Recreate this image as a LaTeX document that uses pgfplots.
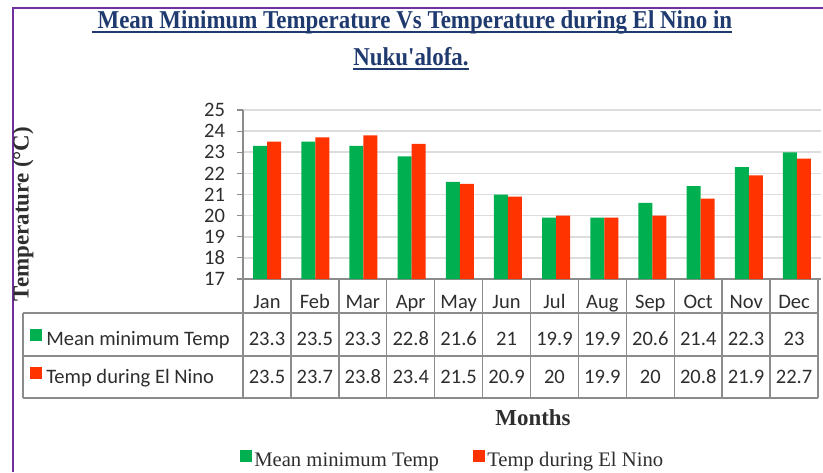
\documentclass[border=0pt]{standalone}
\usepackage{pgfplots}
\pgfplotsset{compat=1.18}
\usepackage{pgfplotstable}
\usepackage{fontspec}
\setmainfont{Liberation Serif}
\newfontfamily\calibri{Carlito}
\definecolor{mgreen}{HTML}{00B050}
\definecolor{mred}{HTML}{FF3300}
\definecolor{navy}{HTML}{1F3A6E}
\definecolor{framec}{HTML}{7030A0}
\definecolor{tline}{HTML}{8C8C8C}
\definecolor{gridc}{HTML}{DDDDDD}
\definecolor{txt}{HTML}{2E2E2E}

\pgfplotstableread{
m mean nino
Jan 23.3 23.5
Feb 23.5 23.7
Mar 23.3 23.8
Apr 22.8 23.4
May 21.6 21.5
Jun 21 20.9
Jul 19.9 20
Aug 19.9 19.9
Sep 20.6 20
Oct 21.4 20.8
Nov 22.3 21.9
Dec 23 22.7
}\data

\newcommand\calsize{\calibri\fontsize{15.4}{18}\selectfont}
\newcommand\titlesize{\bfseries\fontsize{17.2}{20}\selectfont}

\begin{document}
\begin{tikzpicture}[x=0.75pt,y=-0.75pt]
\path[use as bounding box] (0,0) rectangle (823,472);
% frame
\draw[framec, line width=1.5pt] (12.5,472) -- (12.5,7.5) -- (823,7.5);

\begin{axis}[
  at={(182.25pt,-209.25pt)}, anchor=south west,
  scale only axis, width=433.5pt, height=126.75pt,
  xmin=0.5, xmax=12.5, ymin=17, ymax=25,
  ytick={17,...,25}, xtick=\empty,
  axis x line*=bottom, axis y line*=left,
  axis line style={tline, line width=1.1pt},
  ymajorgrids, grid style={gridc, line width=1.2pt},
  tick align=outside, major tick length=4.5pt,
  y tick style={tline, line width=0.9pt},
  yticklabel style={font=\calsize, text=txt, xshift=-5.5pt},
  /pgf/number format/assume math mode=true,
  ybar=0pt, bar width=10.5pt,
  clip=false,
]
\addplot[fill=mgreen, draw=none] table[x expr=\coordindex+1, y=mean]{\data};
\addplot[fill=mred, draw=none] table[x expr=\coordindex+1, y=nino]{\data};
\end{axis}

% data table
\begin{scope}[tline, line width=1.1pt]
\foreach \k in {0,...,12} {
  \pgfmathsetmacro\xx{243+47.9167*\k}
  \draw (\xx,279) -- (\xx,398);
}
\foreach \yy in {313,356,398} { \draw (23,\yy) -- (818,\yy); }
\draw (23,313) -- (23,398);
\end{scope}

\foreach \k in {0,...,11} {
  \pgfmathsetmacro\xc{243+47.9167*(\k+0.5)}
  \pgfplotstablegetelem{\k}{m}\of\data
  \node[anchor=base, inner sep=0, text=txt] at (\xc,308) {\calsize\pgfplotsretval};
  \pgfplotstablegetelem{\k}{mean}\of\data
  \node[anchor=base, inner sep=0, text=txt] at (\xc,345) {\calsize\pgfplotsretval};
  \pgfplotstablegetelem{\k}{nino}\of\data
  \node[anchor=base, inner sep=0, text=txt] at (\xc,383) {\calsize\pgfplotsretval};
}
\fill[mgreen] (30,329) rectangle (42,341);
\node[anchor=base west, inner sep=0, text=txt] at (46,345) {\calsize Mean minimum Temp};
\fill[mred] (30,367) rectangle (42,379);
\node[anchor=base west, inner sep=0, text=txt] at (46,383) {\calsize Temp during El Nino};

% title
\node[anchor=base, inner sep=0, text=navy] (t1) at (412,28) {\scalebox{1}[1.12]{\titlesize\ Mean Minimum Temperature Vs Temperature during El Nino in}};
\draw[navy, line width=1.5pt] ([yshift=-3.2pt]t1.base west) -- ([yshift=-3.2pt]t1.base east);
\node[anchor=base, inner sep=0, text=navy] (t2) at (411,65) {\scalebox{1}[1.12]{\titlesize Nuku\textquotesingle alofa.}};
\draw[navy, line width=1.5pt] ([yshift=-3.2pt]t2.base west) -- ([yshift=-3.2pt]t2.base east);

% y label
\node[rotate=90, inner sep=0, text=txt] at (23,214) {\titlesize Temperature (°C)};
% x label
\node[anchor=base, inner sep=0, text=txt] at (533,425) {\titlesize Months};

% legend
\fill[mgreen] (240,450) rectangle (252,462);
\node[anchor=base west, inner sep=0, text=txt] at (254,466) {\fontsize{15.5}{18}\selectfont Mean minimum Temp};
\fill[mred] (473,450) rectangle (485,462);
\node[anchor=base west, inner sep=0, text=txt] at (487,466) {\fontsize{15.5}{18}\selectfont Temp during El Nino};
\end{tikzpicture}
\end{document}
